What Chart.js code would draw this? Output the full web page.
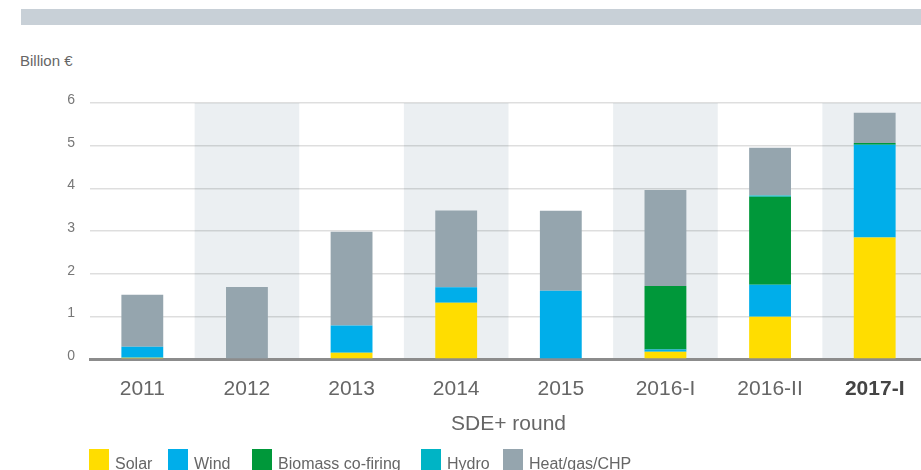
<!DOCTYPE html>
<html lang="en">
<head>
<meta charset="UTF-8">
<title>SDE+ rounds</title>
<script src="https://cdn.jsdelivr.net/npm/chart.js"></script>
<style>
    html, body { margin: 0; padding: 0; background: #fff; overflow: hidden; }
    body { width: 921px; height: 470px; position: relative; font-family: "Liberation Sans", Arial, sans-serif; }
    .topbar { position: absolute; left: 21px; top: 9px; width: 900px; height: 16px; background: #c8d0d7; }
    .unit { position: absolute; left: 20px; top: 52px; font-size: 15px; color: #666; }
    #chart { position: absolute; left: 0; top: 0; }
    .xtitle { position: absolute; left: 90px; width: 837px; top: 411px; text-align: center; font-size: 21px; color: #666; }
    .legend-item { position: absolute; top: 449px; height: 22px; font-size: 16px; color: #666; white-space: nowrap; }
    .legend-item i { position: absolute; left: 0; top: 0; width: 20px; height: 22px; }
    .legend-item span { position: absolute; left: 26px; top: 6px; }
</style>
</head>
<body>
    <div class="topbar"></div>
    <div class="unit">Billion €</div>
    <canvas id="chart" width="930" height="470"></canvas>
    <div class="xtitle">SDE+ round</div>
    <div id="legend"></div>

<script>
    const rounds = ['2011', '2012', '2013', '2014', '2015', '2016-I', '2016-II', '2017-I'];

    const solar   = [0.03, 0.02, 0.145, 1.32, 0.02, 0.17, 0.99, 2.85];
    const wind    = [0.255, 0, 0.64, 0.36, 1.58, 0.05, 0.75, 2.17];
    const biomass = [0, 0, 0, 0, 0, 1.49, 2.06, 0.04];
    const hydro   = [0, 0, 0, 0, 0, 0, 0.03, 0];
    const heat    = [1.22, 1.67, 2.2, 1.8, 1.875, 2.25, 1.12, 0.71];

    const seriesNames  = ['Solar', 'Wind', 'Biomass co-firing', 'Hydro', 'Heat/gas/CHP'];
    const seriesColors = ['#ffdd00', '#00aeea', '#00983a', '#00b4c5', '#95a5ae'];
    const legendLeft   = [89, 168, 252, 421, 503];

    Chart.defaults.font.family = '"Liberation Sans", Arial, sans-serif';

    // grey background band behind every second round
    const bandPlugin = {
        id: 'bands',
        beforeDraw(chart) {
            const { ctx, chartArea, scales: { x } } = chart;
            const w = x.width / rounds.length;
            ctx.save();
            ctx.fillStyle = '#ebeff2';
            rounds.forEach((r, i) => {
                if (i % 2 === 1) {
                    const c = x.getPixelForValue(i);
                    ctx.fillRect(c - w / 2, chartArea.top, w, chartArea.bottom - chartArea.top);
                }
            });
            ctx.restore();
        }
    };

    const values = [solar, wind, biomass, hydro, heat];
    const datasets = seriesNames.map((name, i) => ({
        label: name,
        data: values[i],
        backgroundColor: seriesColors[i],
        borderWidth: 0,
        barPercentage: 0.4,
        categoryPercentage: 1
    }));

    new Chart(document.getElementById('chart').getContext('2d'), {
        type: 'bar',
        data: { labels: rounds, datasets: datasets },
        plugins: [bandPlugin],
        options: {
            responsive: false,
            animation: false,
            layout: { padding: { top: 103, right: 3, left: 0, bottom: 0 } },
            plugins: { legend: { display: false }, tooltip: { enabled: false } },
            scales: {
                x: {
                    stacked: true,
                    z: 1,
                    grid: { display: false, drawTicks: false },
                    border: { color: '#8c8c8c', width: 3 },
                    ticks: {
                        padding: 18,
                        color: ctx => ctx.index === rounds.length - 1 ? '#444' : '#666',
                        font: ctx => ({ size: 21, weight: ctx.index === rounds.length - 1 ? 'bold' : 'normal' })
                    },
                    afterFit: s => { s.height = 111; }
                },
                y: {
                    stacked: true,
                    min: 0,
                    max: 6,
                    ticks: { stepSize: 1, padding: 15, labelOffset: -3, color: '#777', font: { size: 14 } },
                    grid: { color: 'rgba(0,0,0,0.13)', lineWidth: 1.5, drawTicks: false },
                    border: { display: false },
                    afterFit: s => { s.width = 90; }
                }
            }
        }
    });

    // legend row below the chart
    const legend = document.getElementById('legend');
    seriesNames.forEach((name, i) => {
        const item = document.createElement('div');
        item.className = 'legend-item';
        item.style.left = legendLeft[i] + 'px';
        item.innerHTML = '<i style="background:' + seriesColors[i] + '"></i><span>' + name + '</span>';
        legend.appendChild(item);
    });
</script>
</body>
</html>
